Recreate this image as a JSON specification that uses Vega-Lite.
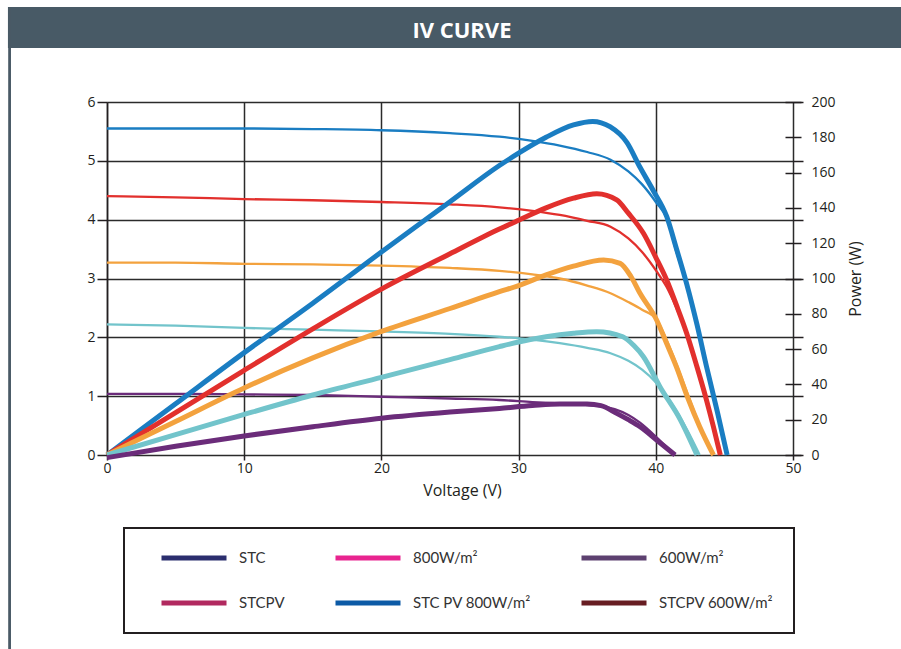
{
  "$schema": "https://vega.github.io/schema/vega-lite/v6.json",
  "width": 686,
  "height": 353,
  "autosize": {"type": "none"},
  "padding": {"left": 107, "top": 102, "right": 108, "bottom": 194},
  "background": "white",
  "config": {
    "view": {"stroke": null},
    "axis": {
      "labelFont": "Open Sans", "labelFontSize": 14, "labelColor": "#231f20",
      "titleFont": "Open Sans", "titleFontSize": 16, "titleFontWeight": "normal", "titleColor": "#231f20",
      "tickColor": "#231f20", "tickWidth": 1.5, "domainColor": "#231f20", "domainWidth": 1.5,
      "gridColor": "#2b2b2b", "gridOpacity": 1, "gridWidth": 1.5, "labelFlush": false
    }
  },
  "datasets": {
    "iv": [
      {"lvl": "1000", "v": 0, "i": 5.55}, {"lvl": "1000", "v": 5, "i": 5.55}, {"lvl": "1000", "v": 10, "i": 5.55}, {"lvl": "1000", "v": 15, "i": 5.54}, {"lvl": "1000", "v": 20, "i": 5.52}, {"lvl": "1000", "v": 25, "i": 5.47}, {"lvl": "1000", "v": 28.6, "i": 5.41}, {"lvl": "1000", "v": 31, "i": 5.34}, {"lvl": "1000", "v": 33, "i": 5.26}, {"lvl": "1000", "v": 35, "i": 5.15}, {"lvl": "1000", "v": 36.7, "i": 5.02}, {"lvl": "1000", "v": 38, "i": 4.82}, {"lvl": "1000", "v": 39, "i": 4.6}, {"lvl": "1000", "v": 40, "i": 4.3}, {"lvl": "1000", "v": 40.9, "i": 3.97}, {"lvl": "1000", "v": 41.5, "i": 3.45}, {"lvl": "1000", "v": 42.25, "i": 2.92}, {"lvl": "1000", "v": 43, "i": 2.25}, {"lvl": "1000", "v": 43.7, "i": 1.5}, {"lvl": "1000", "v": 44.5, "i": 0.72}, {"lvl": "1000", "v": 45.2, "i": 0},
      {"lvl": "800", "v": 0, "i": 4.4}, {"lvl": "800", "v": 5, "i": 4.38}, {"lvl": "800", "v": 10, "i": 4.35}, {"lvl": "800", "v": 15, "i": 4.33}, {"lvl": "800", "v": 20, "i": 4.3}, {"lvl": "800", "v": 25, "i": 4.26}, {"lvl": "800", "v": 28.6, "i": 4.21}, {"lvl": "800", "v": 31, "i": 4.15}, {"lvl": "800", "v": 33, "i": 4.08}, {"lvl": "800", "v": 35, "i": 3.98}, {"lvl": "800", "v": 36.7, "i": 3.88}, {"lvl": "800", "v": 38, "i": 3.68}, {"lvl": "800", "v": 39, "i": 3.45}, {"lvl": "800", "v": 40.06, "i": 3.12}, {"lvl": "800", "v": 40.8, "i": 2.85}, {"lvl": "800", "v": 41.5, "i": 2.5}, {"lvl": "800", "v": 42.25, "i": 2.07}, {"lvl": "800", "v": 43, "i": 1.52}, {"lvl": "800", "v": 43.7, "i": 0.93}, {"lvl": "800", "v": 44.2, "i": 0.5}, {"lvl": "800", "v": 44.7, "i": 0},
      {"lvl": "600", "v": 0, "i": 3.27}, {"lvl": "600", "v": 5, "i": 3.27}, {"lvl": "600", "v": 10, "i": 3.25}, {"lvl": "600", "v": 15, "i": 3.24}, {"lvl": "600", "v": 20, "i": 3.22}, {"lvl": "600", "v": 25, "i": 3.18}, {"lvl": "600", "v": 28.6, "i": 3.13}, {"lvl": "600", "v": 31, "i": 3.07}, {"lvl": "600", "v": 33, "i": 3.0}, {"lvl": "600", "v": 35, "i": 2.88}, {"lvl": "600", "v": 36.7, "i": 2.75}, {"lvl": "600", "v": 38, "i": 2.6}, {"lvl": "600", "v": 39, "i": 2.47}, {"lvl": "600", "v": 40.06, "i": 2.3}, {"lvl": "600", "v": 40.8, "i": 1.95}, {"lvl": "600", "v": 41.5, "i": 1.55}, {"lvl": "600", "v": 42.3, "i": 1.05}, {"lvl": "600", "v": 43.2, "i": 0.5}, {"lvl": "600", "v": 44.2, "i": 0},
      {"lvl": "400", "v": 0, "i": 2.22}, {"lvl": "400", "v": 5, "i": 2.2}, {"lvl": "400", "v": 10, "i": 2.16}, {"lvl": "400", "v": 15, "i": 2.13}, {"lvl": "400", "v": 20, "i": 2.1}, {"lvl": "400", "v": 25, "i": 2.06}, {"lvl": "400", "v": 28.6, "i": 2.01}, {"lvl": "400", "v": 31, "i": 1.96}, {"lvl": "400", "v": 33, "i": 1.9}, {"lvl": "400", "v": 35, "i": 1.82}, {"lvl": "400", "v": 36.7, "i": 1.73}, {"lvl": "400", "v": 38, "i": 1.6}, {"lvl": "400", "v": 39, "i": 1.45}, {"lvl": "400", "v": 40.06, "i": 1.22}, {"lvl": "400", "v": 40.8, "i": 1.0}, {"lvl": "400", "v": 41.5, "i": 0.75}, {"lvl": "400", "v": 42.3, "i": 0.42}, {"lvl": "400", "v": 43.2, "i": 0},
      {"lvl": "200", "v": 0, "i": 1.04}, {"lvl": "200", "v": 5, "i": 1.04}, {"lvl": "200", "v": 10, "i": 1.03}, {"lvl": "200", "v": 15, "i": 1.02}, {"lvl": "200", "v": 20, "i": 0.99}, {"lvl": "200", "v": 25, "i": 0.96}, {"lvl": "200", "v": 28.6, "i": 0.935}, {"lvl": "200", "v": 31, "i": 0.9}, {"lvl": "200", "v": 33, "i": 0.875}, {"lvl": "200", "v": 35, "i": 0.85}, {"lvl": "200", "v": 36, "i": 0.83}, {"lvl": "200", "v": 37, "i": 0.78}, {"lvl": "200", "v": 38, "i": 0.68}, {"lvl": "200", "v": 38.85, "i": 0.55}, {"lvl": "200", "v": 40.06, "i": 0.3}, {"lvl": "200", "v": 40.8, "i": 0.13}, {"lvl": "200", "v": 41.4, "i": 0}
    ],
    "pv": [
      {"lvl": "1000", "v": 0, "p": 0}, {"lvl": "1000", "v": 5, "p": 29}, {"lvl": "1000", "v": 10, "p": 58}, {"lvl": "1000", "v": 15, "p": 86}, {"lvl": "1000", "v": 20, "p": 115}, {"lvl": "1000", "v": 25, "p": 143.5}, {"lvl": "1000", "v": 28.6, "p": 164}, {"lvl": "1000", "v": 30, "p": 171}, {"lvl": "1000", "v": 32, "p": 180}, {"lvl": "1000", "v": 34, "p": 187}, {"lvl": "1000", "v": 35.4, "p": 189}, {"lvl": "1000", "v": 36.66, "p": 186}, {"lvl": "1000", "v": 37.9, "p": 177}, {"lvl": "1000", "v": 38.85, "p": 163}, {"lvl": "1000", "v": 39.8, "p": 150}, {"lvl": "1000", "v": 40.8, "p": 135}, {"lvl": "1000", "v": 41.5, "p": 117}, {"lvl": "1000", "v": 42.25, "p": 97}, {"lvl": "1000", "v": 43, "p": 74}, {"lvl": "1000", "v": 43.7, "p": 50}, {"lvl": "1000", "v": 44.5, "p": 24}, {"lvl": "1000", "v": 45.2, "p": 0},
      {"lvl": "800", "v": 0, "p": 0}, {"lvl": "800", "v": 5, "p": 24}, {"lvl": "800", "v": 10, "p": 48}, {"lvl": "800", "v": 15, "p": 71.5}, {"lvl": "800", "v": 20, "p": 94}, {"lvl": "800", "v": 25, "p": 114}, {"lvl": "800", "v": 28.6, "p": 128}, {"lvl": "800", "v": 30, "p": 133}, {"lvl": "800", "v": 32, "p": 140}, {"lvl": "800", "v": 34, "p": 145.5}, {"lvl": "800", "v": 35.7, "p": 148}, {"lvl": "800", "v": 37.15, "p": 144.5}, {"lvl": "800", "v": 38, "p": 137}, {"lvl": "800", "v": 39.1, "p": 125.6}, {"lvl": "800", "v": 40, "p": 112}, {"lvl": "800", "v": 40.8, "p": 99}, {"lvl": "800", "v": 41.5, "p": 85}, {"lvl": "800", "v": 42.25, "p": 69}, {"lvl": "800", "v": 43, "p": 50}, {"lvl": "800", "v": 43.7, "p": 31}, {"lvl": "800", "v": 44.2, "p": 16}, {"lvl": "800", "v": 44.7, "p": 0},
      {"lvl": "600", "v": 0, "p": 0}, {"lvl": "600", "v": 5, "p": 19}, {"lvl": "600", "v": 10, "p": 38}, {"lvl": "600", "v": 15, "p": 55}, {"lvl": "600", "v": 20, "p": 70}, {"lvl": "600", "v": 25, "p": 83}, {"lvl": "600", "v": 28.6, "p": 92.5}, {"lvl": "600", "v": 30, "p": 96}, {"lvl": "600", "v": 32, "p": 102}, {"lvl": "600", "v": 34, "p": 107}, {"lvl": "600", "v": 36.2, "p": 110.5}, {"lvl": "600", "v": 37.4, "p": 108.6}, {"lvl": "600", "v": 38.2, "p": 101}, {"lvl": "600", "v": 38.85, "p": 91.6}, {"lvl": "600", "v": 40.06, "p": 76.5}, {"lvl": "600", "v": 40.8, "p": 63}, {"lvl": "600", "v": 41.5, "p": 50}, {"lvl": "600", "v": 42.3, "p": 33}, {"lvl": "600", "v": 43.2, "p": 16}, {"lvl": "600", "v": 44.2, "p": 0},
      {"lvl": "400", "v": 0, "p": 0}, {"lvl": "400", "v": 5, "p": 11.6}, {"lvl": "400", "v": 10, "p": 23}, {"lvl": "400", "v": 15, "p": 34}, {"lvl": "400", "v": 20, "p": 44}, {"lvl": "400", "v": 25, "p": 54}, {"lvl": "400", "v": 28.6, "p": 61.4}, {"lvl": "400", "v": 30, "p": 64}, {"lvl": "400", "v": 32, "p": 67}, {"lvl": "400", "v": 34, "p": 69}, {"lvl": "400", "v": 35.7, "p": 69.9}, {"lvl": "400", "v": 37.6, "p": 67}, {"lvl": "400", "v": 38.4, "p": 62}, {"lvl": "400", "v": 39.1, "p": 55.7}, {"lvl": "400", "v": 40.3, "p": 38.7}, {"lvl": "400", "v": 41.8, "p": 19.8}, {"lvl": "400", "v": 43, "p": 0},
      {"lvl": "200", "v": 0, "p": -1.5}, {"lvl": "200", "v": 5, "p": 5}, {"lvl": "200", "v": 10, "p": 10.8}, {"lvl": "200", "v": 15, "p": 16}, {"lvl": "200", "v": 20, "p": 20.8}, {"lvl": "200", "v": 25, "p": 24.3}, {"lvl": "200", "v": 28.6, "p": 26.4}, {"lvl": "200", "v": 31, "p": 28}, {"lvl": "200", "v": 33, "p": 28.9}, {"lvl": "200", "v": 35, "p": 28.9}, {"lvl": "200", "v": 36, "p": 28}, {"lvl": "200", "v": 37.15, "p": 23.6}, {"lvl": "200", "v": 38, "p": 20}, {"lvl": "200", "v": 38.85, "p": 16}, {"lvl": "200", "v": 40.06, "p": 8.5}, {"lvl": "200", "v": 41.4, "p": 0}
    ],
    "legendItems": [
      {"item": "STC"}, {"item": "800W/m²"}, {"item": "600W/m²"},
      {"item": "STCPV"}, {"item": "STC PV 800W/m²"}, {"item": "STCPV 600W/m²"}
    ],
    "header": [{"t": "IV CURVE"}]
  },
  "layer": [
    {
      "data": {"name": "iv"},
      "mark": {"type": "line", "strokeWidth": 2.3, "interpolate": "monotone"},
      "encoding": {
        "x": {"field": "v", "type": "quantitative", "scale": {"domain": [0, 50], "nice": false},
          "axis": {"orient": "bottom", "values": [0, 10, 20, 30, 40, 50], "grid": true, "tickSize": 5, "domain": false, "labelPadding": 1, "title": "Voltage (V)", "titleX": 355, "titlePadding": 7}},
        "y": {"field": "i", "type": "quantitative", "scale": {"domain": [0, 6], "nice": false},
          "axis": {"orient": "left", "values": [0, 1, 2, 3, 4, 5, 6], "grid": true, "tickSize": 10, "labelPadding": 2, "domain": true, "title": null}},
        "stroke": {"field": "lvl", "type": "nominal",
          "scale": {"domain": ["1000", "800", "600", "400", "200"], "range": ["#1a7dc2", "#e2302d", "#f3a23e", "#72c4cb", "#6b2c7a"]}, "legend": null},
        "order": {"field": "v", "type": "quantitative"}
      }
    },
    {
      "data": {"name": "pv"},
      "mark": {"type": "line", "strokeWidth": 5, "interpolate": "monotone"},
      "encoding": {
        "x": {"field": "v", "type": "quantitative", "scale": {"domain": [0, 50], "nice": false}},
        "y": {"field": "p", "type": "quantitative", "scale": {"domain": [0, 200], "nice": false},
          "axis": {"orient": "right", "offset": -8, "tickSize": 16, "domain": false, "grid": false, "values": [0, 20, 40, 60, 80, 100, 120, 140, 160, 180, 200], "labelPadding": 10, "title": "Power (W)", "titleAngle": 270, "titlePadding": 28}},
        "stroke": {"field": "lvl", "type": "nominal",
          "scale": {"domain": ["1000", "800", "600", "400", "200"], "range": ["#1a7dc2", "#e2302d", "#f3a23e", "#72c4cb", "#6b2c7a"]}, "legend": null},
        "order": {"field": "v", "type": "quantitative"}
      }
    },
    {
      "layer": [
        {
          "data": {"name": "legendItems"},
          "mark": {"type": "line", "opacity": 0},
          "encoding": {
            "x": {"datum": 20, "type": "quantitative", "scale": {"domain": [0, 50], "nice": false}},
            "y": {"datum": 7.3, "type": "quantitative", "scale": {"domain": [0, 6], "nice": false},
              "axis": {"orient": "right", "values": [0, 1, 2, 3, 4, 5, 6], "labels": false, "domain": false, "grid": false, "tickSize": 10, "title": null}},
            "color": {"field": "item", "type": "nominal",
              "scale": {"domain": ["STC", "800W/m²", "600W/m²", "STCPV", "STC PV 800W/m²", "STCPV 600W/m²"],
                "range": ["#2b2e6e", "#e8248f", "#5d4170", "#b1295f", "#0c5aa6", "#671d22"]},
              "legend": {
                "orient": "none", "legendX": 17, "legendY": 426, "direction": "horizontal", "columns": 3,
                "title": null, "symbolType": "stroke", "symbolSize": 4225, "symbolStrokeWidth": 5, "symbolOpacity": 1,
                "clipHeight": 20, "rowPadding": 25, "columnPadding": 33, "padding": 20, "symbolOffset": 15, "labelOffset": 10,
                "labelFont": "Lato", "labelFontSize": 15, "labelColor": "#333333", "labelLimit": 300,
                "strokeColor": "#231f20", "fillColor": "white",
                "encode": {"legend": {"update": {"strokeWidth": {"value": 2}}}}
              }
            }
          }
        },
        {
          "data": {"values": [{}]},
          "mark": {"type": "rect", "color": "#485a66"},
          "encoding": {
            "x": {"datum": -7.22, "type": "quantitative", "scale": {"domain": [0, 50], "nice": false}},
            "x2": {"datum": 57.95},
            "y": {"datum": 7.615, "type": "quantitative", "scale": {"domain": [0, 6], "nice": false},
              "axis": {"orient": "right", "values": [0, 1, 2, 3, 4, 5, 6], "labels": false, "domain": false, "grid": false, "tickSize": 10, "title": null}},
            "y2": {"datum": 6.918}
          }
        },
        {
          "data": {"values": [{}]},
          "mark": {"type": "rule", "color": "#4a5a66", "strokeWidth": 2.8},
          "encoding": {
            "x": {"datum": -7.1, "type": "quantitative", "scale": {"domain": [0, 50], "nice": false}},
            "y": {"datum": 7.615, "type": "quantitative", "scale": {"domain": [0, 6], "nice": false},
              "axis": {"orient": "right", "values": [0, 1, 2, 3, 4, 5, 6], "labels": false, "domain": false, "grid": false, "tickSize": 10, "title": null}},
            "y2": {"datum": -3.31}
          }
        },
        {
          "data": {"name": "header"},
          "mark": {"type": "text", "font": "Open Sans", "fontWeight": "bold", "fontSize": 22, "color": "white", "align": "center", "baseline": "middle"},
          "encoding": {
            "x": {"datum": 25.87, "type": "quantitative", "scale": {"domain": [0, 50], "nice": false}},
            "y": {"datum": 7.2, "type": "quantitative", "scale": {"domain": [0, 6], "nice": false},
              "axis": {"orient": "right", "values": [0, 1, 2, 3, 4, 5, 6], "labels": false, "domain": false, "grid": false, "tickSize": 10, "title": null}},
            "text": {"field": "t", "type": "nominal"}
          }
        }
      ]
    }
  ],
  "resolve": {"scale": {"y": "independent"}}
}
